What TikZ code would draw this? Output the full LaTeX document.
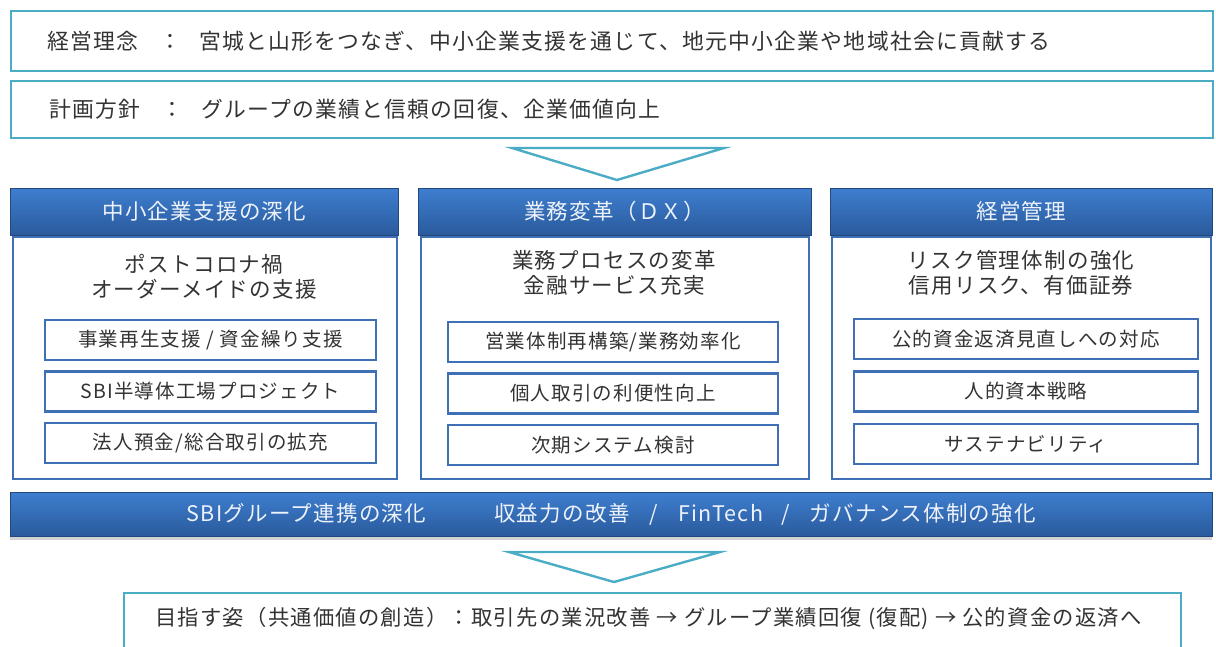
\documentclass[tikz,border=0pt]{standalone}
\usepackage{fontspec}
\setmainfont{Noto Sans CJK JP}[LetterSpace=6]
\usetikzlibrary{positioning, shadows}

\definecolor{tealline}{HTML}{4BACC6}
\definecolor{bartop}{HTML}{3E7ECF}
\definecolor{barbottom}{HTML}{2A5A9C}
\definecolor{boxblue}{HTML}{3F6FB5}
\definecolor{txtgray}{HTML}{333333}
\definecolor{bartext}{HTML}{EEF3FB}

\tikzset{
  tealbox/.style={draw=tealline, line width=2.4pt, fill=white, anchor=north west, inner sep=0pt},
  rowtext/.style={text=txtgray, inner sep=0pt, anchor=west, font=\fontsize{21.8}{25}\selectfont},
  headbar/.style={top color=bartop, bottom color=barbottom, draw=barbottom!80!black, line width=0.4pt,
    text=bartext, inner sep=0pt, font=\fontsize{21.5}{25}\selectfont},
  colbody/.style={draw=boxblue, line width=1.8pt, fill=white, anchor=north west, inner sep=0pt},
  subtext/.style={text=txtgray, align=center, inner sep=0pt, font=\fontsize{21.5}{25.5}\selectfont},
  itembox/.style={draw=boxblue, line width=2.4pt, fill=white, text=txtgray, minimum height=40pt,
    inner sep=0pt, font=\fontsize{19.5}{23}\selectfont},
  chevron/.style={draw=tealline, line width=2.4pt, fill=white, line join=miter}
}

\begin{document}
\begin{tikzpicture}[x=1pt, y=-1pt]
\clip (0,0) rectangle (1216,646);
\fill[white] (0,0) rectangle (1216,646);
% Draw policy rows
\node[tealbox, minimum width=1202pt, minimum height=60pt] (rinen) at (10,10) {};
\node[rowtext, right=37pt of rinen.west] (rinentext) {経営理念\hspace{21pt}：\hspace{18pt}宮城と山形をつなぎ、中小企業支援を通じて、地元中小企業や地域社会に貢献する};
\node[tealbox, minimum width=1202pt, minimum height=57pt] (hoshin) at (10,80) {};
\node[rowtext, right=39pt of hoshin.west] (hoshintext) {計画方針\hspace{21pt}：\hspace{18pt}グループの業績と信頼の回復、企業価値向上};
% Draw first chevron
\coordinate (chevA1) at (512,148);
\coordinate (chevA2) at (724,148);
\coordinate (chevA3) at (617,180);
\draw[chevron] (chevA1) -- (chevA2) -- (chevA3) -- cycle;
% Draw the three columns
\node[colbody, minimum width=384pt, minimum height=242pt] (body1) at (12,236) {};
\node[colbody, minimum width=388pt, minimum height=242pt] (body2) at (420,236) {};
\node[colbody, minimum width=379pt, minimum height=242pt] (body3) at (831,236) {};
\node[headbar, anchor=north west, minimum width=388pt, minimum height=47pt] (head1) at (10,188) {中小企業支援の深化};
\node[headbar, anchor=north west, minimum width=393pt, minimum height=47pt] (head2) at (418,188) {業務変革（ＤＸ）};
\node[headbar, anchor=north west, minimum width=382pt, minimum height=47pt] (head3) at (830,188) {経営管理};
% Column subtitles
\node[subtext] (sub1) at (204,277) {ポストコロナ禍\\オーダーメイドの支援};
\node[subtext] (sub2) at (614,273) {業務プロセスの変革\\金融サービス充実};
\node[subtext] (sub3) at (1021,273) {リスク管理体制の強化\\信用リスク、有価証券};
% Items of column 1
\node[itembox, minimum width=331pt] (item11) at (210.5,340) {事業再生支援 / 資金繰り支援};
\node[itembox, minimum width=331pt, below=9pt of item11] (item12) {SBI半導体工場プロジェクト};
\node[itembox, minimum width=331pt, below=9pt of item12] (item13) {法人預金/総合取引の拡充};
% Items of column 2
\node[itembox, minimum width=330pt] (item21) at (613,342) {営業体制再構築/業務効率化};
\node[itembox, minimum width=330pt, below=9pt of item21] (item22) {個人取引の利便性向上};
\node[itembox, minimum width=330pt, below=9pt of item22] (item23) {次期システム検討};
% Items of column 3
\node[itembox, minimum width=344pt] (item31) at (1026,339) {公的資金返済見直しへの対応};
\node[itembox, minimum width=344pt, below=10pt of item31] (item32) {人的資本戦略};
\node[itembox, minimum width=344pt, below=10pt of item32] (item33) {サステナビリティ};
% Draw the group bar
\node[headbar, anchor=north west, minimum width=1202pt, minimum height=44pt,
  drop shadow={shadow xshift=0pt, shadow yshift=-4pt, opacity=0.35}] (renkei) at (10,492)
  {SBIグループ連携の深化\hspace{68pt}収益力の改善\hspace{20pt}/\hspace{20pt}FinTech\hspace{18pt}/\hspace{20pt}ガバナンス体制の強化};
% Draw second chevron
\coordinate (chevB1) at (509,552);
\coordinate (chevB2) at (720,552);
\coordinate (chevB3) at (614,582);
\draw[chevron] (chevB1) -- (chevB2) -- (chevB3) -- cycle;
% Draw the goal row
\node[tealbox, minimum width=1057pt, minimum height=80pt] (goal) at (123,592) {};
\node[rowtext, anchor=west, font=\fontsize{21.3}{25}\selectfont] (goaltext) at (155,618) {目指す姿（共通価値の創造）：取引先の業況改善 → グループ業績回復 (復配) → 公的資金の返済へ};
\end{tikzpicture}
\end{document}
